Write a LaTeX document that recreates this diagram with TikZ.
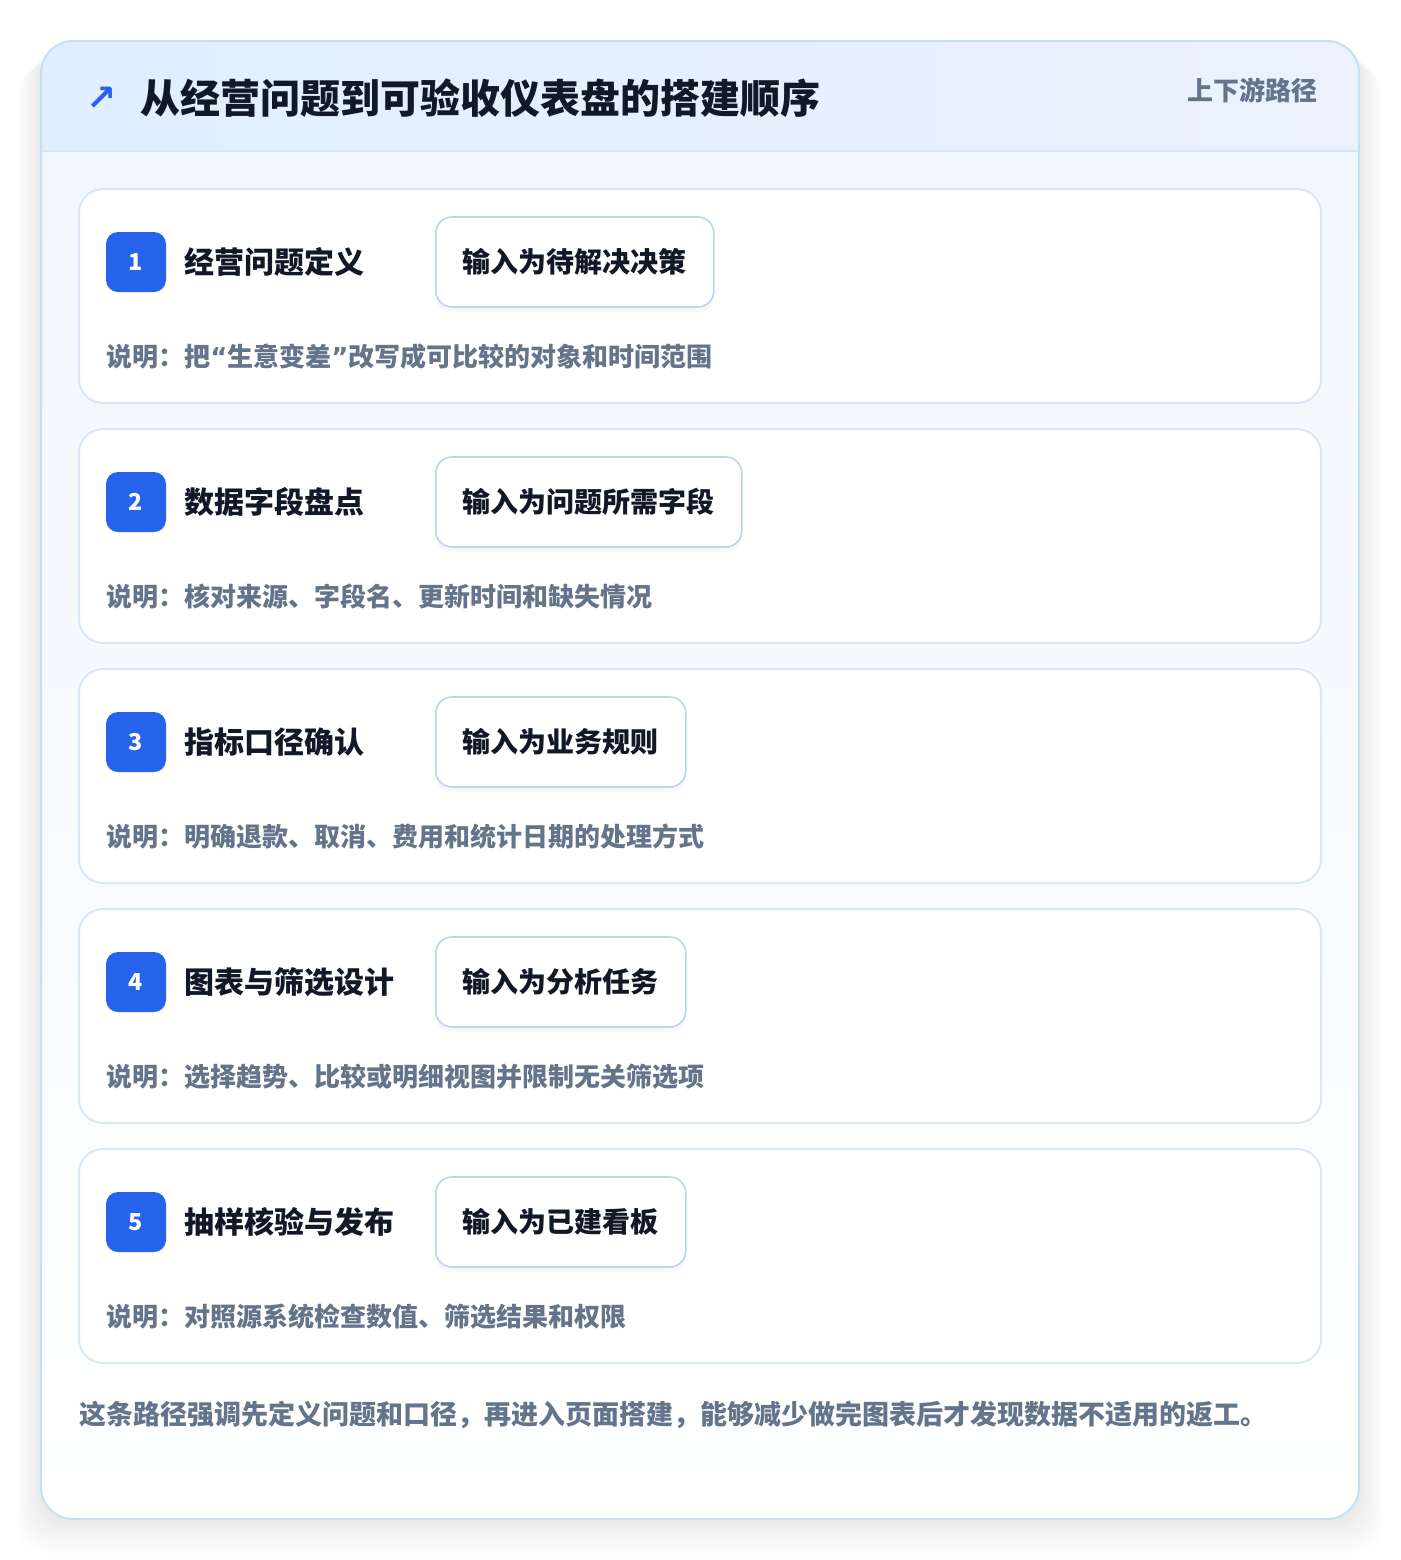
\documentclass[tikz,border=0pt]{standalone}
\usepackage{fontspec}
\setmainfont{Noto Sans CJK SC}
\newfontfamily\symfont{DejaVu Sans}
\usetikzlibrary{positioning, shadows}

\definecolor{pageedge}{HTML}{C3E0F6}
\definecolor{headleft}{HTML}{E0EEFD}
\definecolor{headright}{HTML}{EBF2FD}
\definecolor{headline}{HTML}{D5E6F7}
\definecolor{bodytop}{HTML}{F1F7FE}
\definecolor{stepedge}{HTML}{D9E7F8}
\definecolor{pilledge}{HTML}{BCD4F2}
\definecolor{accent}{HTML}{2563EB}
\definecolor{ink}{HTML}{111827}
\definecolor{muted}{HTML}{64748B}

% narrow Latin quotes inside the Chinese notes
\newcommand{\openq}{{\symfont\bfseries “}}
\newcommand{\closeq}{{\symfont\bfseries ”}}

\tikzset{
  stepcard/.style={draw=stepedge, line width=1.5pt, fill=white, rounded corners=18pt},
  badge/.style={fill=accent, text=white, rounded corners=9pt, minimum width=45pt,
    minimum height=45pt, inner sep=0pt, font=\bfseries\fontsize{17.5}{19}\selectfont},
  steptitle/.style={text=ink, inner sep=0pt, anchor=west, font=\bfseries\fontsize{22.5}{26}\selectfont},
  inputpill/.style={draw=pilledge, line width=1.2pt, fill=white, rounded corners=12pt,
    minimum height=67.5pt, inner xsep=20.25pt, anchor=west, text=ink,
    drop shadow={opacity=0.06, shadow xshift=0pt, shadow yshift=-4pt},
    font=\bfseries\fontsize{21}{24}\selectfont},
  note/.style={text=muted, inner sep=0pt, anchor=west, font=\bfseries\fontsize{19.5}{23}\selectfont}
}

\begin{document}
\begin{tikzpicture}[x=0.75pt, y=-0.75pt]
  \useasboundingbox (0,0) rectangle (1400,1560);
  % soft shadow under the outer card
  \foreach \i in {1,...,10}
    \fill[black, opacity=0.008, rounded corners=24pt]
      (41-\i*2.5, 41+\i*2.5) rectangle (1359+\i*2.5, 1519+\i*3.5);
  % outer card with header band
  \begin{scope}
    \clip[rounded corners=24pt] (41,41) rectangle (1359,1519);
    \shade[top color=bodytop, bottom color=white] (41,151) rectangle (1359,1519);
    \shade[left color=headleft, right color=headright] (41,41) rectangle (1359,151);
    \draw[headline, line width=1pt] (41,151) -- (1359,151);
  \end{scope}
  \draw[pageedge, line width=1.5pt, rounded corners=24pt] (41,41) rectangle (1359,1519);

  % header texts
  \node[text=accent, inner sep=0pt, font=\symfont\bfseries\fontsize{27}{29}\selectfont] (icon) at (102,99) {↗};
  \node[anchor=west, inner sep=0pt, text=ink, font=\bfseries\fontsize{30}{34}\selectfont]
    (head) at (140,98) {从经营问题到可验收仪表盘的搭建顺序};
  \node[anchor=east, inner sep=0pt, text=muted, font=\bfseries\fontsize{19.5}{22}\selectfont]
    (route) at (1318,90) {上下游路径};

  % the five steps
  \foreach \n/\ttl/\inp/\desc in {
      1/经营问题定义/输入为待解决决策/{说明：把\openq 生意变差\closeq 改写成可比较的对象和时间范围},
      2/数据字段盘点/输入为问题所需字段/{说明：核对来源、字段名、更新时间和缺失情况},
      3/指标口径确认/输入为业务规则/{说明：明确退款、取消、费用和统计日期的处理方式},
      4/图表与筛选设计/输入为分析任务/{说明：选择趋势、比较或明细视图并限制无关筛选项},
      5/抽样核验与发布/输入为已建看板/{说明：对照源系统检查数值、筛选结果和权限}} {
    \pgfmathsetmacro{\top}{189+(\n-1)*240}
    \draw[stepcard] (79,\top) rectangle (1321,\top+214);
    \node[badge] (badge\n) at (136,\top+73) {\n};
    \node[steptitle, right=13.5pt of badge\n] (title\n) {\ttl};
    \node[inputpill] (input\n) at (435,\top+73) {\inp};
    \node[note] (note\n) at (106,\top+168) {\desc};
  }

  % closing remark
  \node[note, font=\bfseries\fontsize{20.25}{24}\selectfont] (remark) at (79,1415)
    {这条路径强调先定义问题和口径，再进入页面搭建，能够减少做完图表后才发现数据不适用的返工。};
\end{tikzpicture}
\end{document}
